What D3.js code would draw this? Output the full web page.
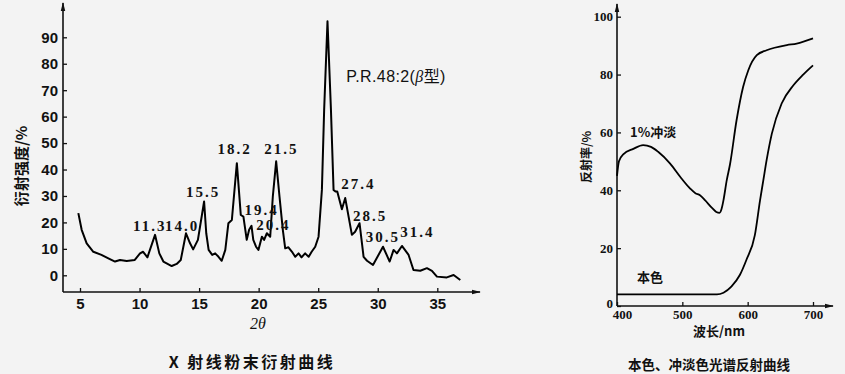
<!DOCTYPE html>
<html lang="zh">
<head>
	<meta charset="utf-8">
	<title>P.R.48:2 curves</title>
	<style type="text/css">
		body {
			margin: 0;
			background: #f3f3f3;
		}
		svg {
			display: block;
		}
	</style>
</head>
<body>
	<svg width="845" height="374"></svg>

	<script src="https://cdnjs.cloudflare.com/ajax/libs/d3/7.8.5/d3.min.js"></script>
	<script type="text/javascript">
		// ---- left chart: X-ray powder diffraction ----
		var theta = [4.86, 5.14, 5.56, 6.12, 6.8, 7.38, 7.94, 8.36, 8.92, 9.6, 10.04, 10.3, 10.66, 11.3, 11.66, 12.0, 12.7, 13.12, 13.46, 13.9,
			14.24, 14.5, 14.9, 15.42, 15.6, 15.8, 16.1, 16.35, 16.63, 16.9, 17.2, 17.46, 17.75, 18.17, 18.5, 18.72, 19.0, 19.2, 19.4, 19.55,
			19.78, 19.98, 20.27, 20.46, 20.69, 20.97, 21.19, 21.47, 21.75, 22.03, 22.23, 22.5, 22.8, 23.07, 23.35, 23.6, 23.9, 24.2, 24.45, 24.75,
			25.03, 25.31, 25.5, 25.78, 26.07, 26.29, 26.45, 26.6, 26.99, 27.27, 27.83, 28.1, 28.47, 28.81, 29.1, 29.6, 30.44, 31.0, 31.33, 31.61,
			32.03, 32.59, 33.0, 33.57, 34.13, 34.55, 34.97, 35.8, 36.37, 36.93];
		var intensity = [23.5, 17.2, 12.1, 8.9, 7.7, 6.4, 5.2, 5.8, 5.4, 5.8, 8.3, 8.9, 6.8, 15.3, 8.3, 5.2, 3.5, 4.3, 5.8, 15.9,
			12.1, 9.8, 13.4, 27.9, 15.9, 9.6, 7.7, 8.3, 7.0, 5.5, 9.6, 19.7, 20.9, 42.4, 22.8, 22.2, 13.4, 17.2, 18.7, 13.4,
			10.8, 9.6, 14.6, 13.4, 15.9, 14.6, 29.8, 43.1, 29.8, 17.2, 10.2, 10.6, 8.9, 7.0, 8.3, 6.8, 8.3, 7.0, 8.9, 10.8,
			14.6, 32.3, 62.6, 96.1, 62.6, 32.3, 31.7, 31.7, 25.0, 29.2, 15.3, 16.5, 19.7, 7.0, 5.5, 3.9, 10.8, 5.2, 9.6, 8.3,
			11.1, 7.7, 2.0, 1.7, 2.7, 1.7, -0.5, -0.8, 0.1, -1.8];

		var xrdTicksX = [5, 10, 15, 20, 25, 30, 35];
		var xrdTicksY = [0, 10, 20, 30, 40, 50, 60, 70, 80, 90];

		var peakLabels = ["11.3", "14.0", "15.5", "18.2", "21.5", "19.4", "20.4", "27.4", "28.5", "30.5", "31.4"];
		var peakLabelTheta = [9.45, 12.14, 13.91, 16.54, 20.46, 18.81, 19.79, 26.93, 27.92, 29.0, 31.89];
		var peakLabelValue = [16.75, 16.75, 29.6, 45.8, 45.8, 22.8, 17.1, 32.6, 20.7, 12.5, 14.4];

		// ---- right chart: spectral reflectance ----
		var tintWave = [400, 403, 410, 425, 440, 452, 463, 481, 499, 512, 520, 527, 535, 545, 552, 557, 560, 563, 568, 573,
			583, 593, 601, 614, 629, 660, 675, 700];
		var tintRefl = [45, 50, 52.5, 54.3, 55.6, 55, 53.3, 49.3, 44, 40.6, 39, 38.3, 36.5, 34, 32.5, 32.2, 33.5, 36.6, 43.5, 49,
			64.2, 75.7, 81.5, 86.7, 88.4, 90.2, 90.7, 92.5];
		var massWave = [400, 553, 563, 575, 588, 598, 611, 619, 624, 629, 637, 652, 670, 685, 700];
		var massRefl = [4, 4, 4.6, 6.7, 10.7, 15.9, 24.5, 36.6, 43.5, 50.4, 59.6, 70, 76.3, 80, 83.2];

		var reflTicksX = [400, 500, 600, 700];
		var reflTicksY = [0, 20, 40, 60, 80, 100];

		var svg = d3.select("svg");

		svg.append("defs").append("marker")
			.attr("id", "arrow")
			.attr("viewBox", "0 0 10 10")
			.attr("refX", 9).attr("refY", 5)
			.attr("markerWidth", 9).attr("markerHeight", 9)
			.attr("markerUnits", "userSpaceOnUse")
			.attr("orient", "auto")
			.append("path")
			.attr("d", "M0,2.5L10,5L0,7.5Z")
			.attr("fill", "#111");

		// ===== left chart =====
		var x1 = d3.scaleLinear().domain([5, 35]).range([80, 437.3]);
		var y1 = d3.scaleLinear().domain([0, 90]).range([275.3, 37.3]);
		var left1 = 63, base1 = 292;

		var g1 = svg.append("g");

		g1.append("line")
			.attr("x1", left1).attr("y1", base1).attr("x2", left1).attr("y2", 3)
			.attr("stroke", "#111").attr("stroke-width", 1.6)
			.attr("marker-end", "url(#arrow)");
		g1.append("line")
			.attr("x1", left1).attr("y1", base1).attr("x2", 480).attr("y2", base1)
			.attr("stroke", "#111").attr("stroke-width", 1.6)
			.attr("marker-end", "url(#arrow)");

		var ax1 = g1.append("g")
			.attr("transform", "translate(" + left1 + ",0)")
			.call(d3.axisLeft(y1).tickValues(xrdTicksY).tickSizeInner(-4).tickSizeOuter(0).tickPadding(5));
		var ax2 = g1.append("g")
			.attr("transform", "translate(0," + base1 + ")")
			.call(d3.axisBottom(x1).tickValues(xrdTicksX).tickSizeInner(-4).tickSizeOuter(0).tickPadding(6));

		[ax1, ax2].forEach(function (a) {
			a.select(".domain").remove();
			a.selectAll("line").attr("stroke", "#111").attr("stroke-width", 1.3);
			a.selectAll("text")
				.attr("fill", "#111")
				.style("font-family", "'Liberation Sans', Arial, sans-serif")
				.style("font-weight", "bold")
				.style("font-size", "15px");
		});

		var line1 = d3.line()
			.x(function (d, i) { return x1(theta[i]); })
			.y(function (d, i) { return y1(intensity[i]); });

		g1.append("path")
			.attr("d", line1(theta))
			.attr("fill", "none")
			.attr("stroke", "#000")
			.attr("stroke-width", 2)
			.attr("stroke-linejoin", "round");

		g1.selectAll(".peak")
			.data(peakLabels)
			.enter().append("text")
			.attr("class", "peak")
			.attr("x", function (d, i) { return x1(peakLabelTheta[i]); })
			.attr("y", function (d, i) { return y1(peakLabelValue[i]); })
			.style("font-family", "'Liberation Serif', 'Times New Roman', serif")
			.style("font-size", "15px")
			.style("font-weight", "bold")
			.style("letter-spacing", "2px")
			.attr("fill", "#111")
			.text(function (d) { return d; });

		g1.append("text")
			.attr("x", x1(27.35)).attr("y", y1(73))
			.style("font-family", "'Liberation Sans', 'Noto Sans CJK SC', sans-serif")
			.style("font-size", "16px")
			.style("letter-spacing", "0.4px")
			.attr("fill", "#111")
			.html("P.R.48:2(<tspan font-style='italic' font-family='Liberation Serif'>β</tspan>型)");

		g1.append("text")
			.attr("transform", "translate(27,166) rotate(-90)")
			.attr("text-anchor", "middle")
			.style("font-family", "'Noto Sans CJK SC', sans-serif")
			.style("font-weight", "bold")
			.style("font-size", "15px")
			.attr("fill", "#111")
			.text("衍射强度/%");

		g1.append("text")
			.attr("x", 258).attr("y", 329)
			.attr("text-anchor", "middle")
			.style("font-family", "'Liberation Serif', serif")
			.style("font-style", "italic")
			.style("font-size", "16px")
			.attr("fill", "#111")
			.text("2θ");

		g1.append("text")
			.attr("x", 252).attr("y", 368)
			.attr("text-anchor", "middle")
			.style("font-family", "'Noto Sans CJK SC', sans-serif")
			.style("font-weight", "bold")
			.style("font-size", "16px")
			.style("letter-spacing", "2.5px")
			.attr("fill", "#111")
			.text("X 射线粉末衍射曲线");

		// ===== right chart =====
		var x2 = d3.scaleLinear().domain([400, 700]).range([617, 813]);
		var y2 = d3.scaleLinear().domain([0, 100]).range([306, 16.7]);
		var left2 = 617, base2 = 306;

		var g2 = svg.append("g");

		g2.append("line")
			.attr("x1", left2).attr("y1", base2).attr("x2", left2).attr("y2", 4)
			.attr("stroke", "#111").attr("stroke-width", 1.6)
			.attr("marker-end", "url(#arrow)");
		g2.append("line")
			.attr("x1", left2).attr("y1", base2).attr("x2", 833).attr("y2", base2)
			.attr("stroke", "#111").attr("stroke-width", 1.6)
			.attr("marker-end", "url(#arrow)");

		var bx1 = g2.append("g")
			.attr("transform", "translate(" + left2 + ",0)")
			.call(d3.axisLeft(y2).tickValues(reflTicksY).tickSizeInner(-4).tickSizeOuter(0).tickPadding(4));
		var bx2 = g2.append("g")
			.attr("transform", "translate(0," + base2 + ")")
			.call(d3.axisBottom(x2).tickValues(reflTicksX).tickSizeInner(-4).tickSizeOuter(0).tickPadding(4));

		[bx1, bx2].forEach(function (a) {
			a.select(".domain").remove();
			a.selectAll("line").attr("stroke", "#111").attr("stroke-width", 1.3);
			a.selectAll("text")
				.attr("fill", "#111")
				.style("font-family", "'Liberation Serif', 'Times New Roman', serif")
				.style("font-weight", "bold")
				.style("font-size", "13px");
		});
		// first wavelength label sits a little right of the origin, clear of the "0"
		bx2.selectAll("text").filter(function (d) { return d === 400; }).attr("dx", 5);
		bx1.selectAll("text").filter(function (d) { return d === 0; }).attr("dy", "0.1em");

		var line2 = d3.line().curve(d3.curveMonotoneX);

		g2.append("path")
			.attr("d", line2(tintWave.map(function (w, i) { return [x2(w), y2(tintRefl[i])]; })))
			.attr("fill", "none").attr("stroke", "#000").attr("stroke-width", 1.8);
		g2.append("path")
			.attr("d", line2(massWave.map(function (w, i) { return [x2(w), y2(massRefl[i])]; })))
			.attr("fill", "none").attr("stroke", "#000").attr("stroke-width", 1.8);

		var cjkBold = function (sel, size) {
			sel.style("font-family", "'Noto Sans CJK SC', sans-serif")
				.style("font-weight", "bold")
				.style("font-size", size + "px")
				.attr("fill", "#111");
		};

		g2.append("text").attr("x", 630).attr("y", 137).call(cjkBold, 13).text("1%冲淡");
		g2.append("text").attr("x", 637).attr("y", 282).call(cjkBold, 13).text("本色");
		g2.append("text")
			.attr("transform", "translate(591,157) rotate(-90)")
			.attr("text-anchor", "middle")
			.call(cjkBold, 12).text("反射率/%");
		g2.append("text")
			.attr("x", 719).attr("y", 336)
			.attr("text-anchor", "middle")
			.call(cjkBold, 13).text("波长/nm");
		g2.append("text")
			.attr("x", 709).attr("y", 370)
			.attr("text-anchor", "middle")
			.call(cjkBold, 13.5).text("本色、冲淡色光谱反射曲线");
	</script>
</body>
</html>
